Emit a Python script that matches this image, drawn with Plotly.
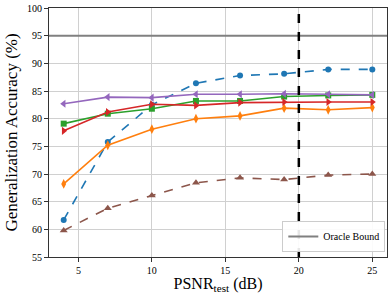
import plotly.graph_objects as go

psnr = [4, 7, 10, 13, 16, 19, 22, 25]
blue_vals = [61.7, 75.8, 82.5, 86.4, 87.8, 88.1, 88.9, 88.9]
orange_vals = [68.2, 75.2, 78.1, 80.0, 80.5, 81.9, 81.6, 82.0]
green_vals = [79.1, 80.9, 81.8, 83.2, 83.2, 84.0, 84.2, 84.3]
red_vals = [77.8, 81.2, 82.6, 82.4, 82.9, 83.0, 83.0, 83.0]
purple_vals = [82.7, 83.9, 83.8, 84.4, 84.4, 84.5, 84.4, 84.3]
brown_vals = [59.8, 63.8, 66.1, 68.4, 69.3, 69.0, 69.8, 70.0]
oracle_bound = 95
train_psnr = 20
x_range = [3, 26]

series = [
    (blue_vals, "#1f77b4", "circle", "dash", 6),
    (orange_vals, "#ff7f0e", "diamond-tall", "solid", 7),
    (green_vals, "#2ca02c", "square", "solid", 6),
    (red_vals, "#d62728", "triangle-right", "solid", 7),
    (purple_vals, "#9467bd", "triangle-left", "solid", 7),
    (brown_vals, "#8c564b", "triangle-up", "dash", 7),
]

fig = go.Figure()
for vals, color, sym, dash, sz in series:
    fig.add_trace(go.Scatter(
        x=psnr, y=vals, mode="lines+markers",
        line=dict(color=color, width=1.6, dash=dash),
        marker=dict(color=color, symbol=sym, size=sz, line=dict(width=0)),
        showlegend=False,
    ))

fig.add_trace(go.Scatter(
    x=x_range, y=[oracle_bound, oracle_bound], mode="lines",
    line=dict(color="#808080", width=2), name="Oracle Bound",
    showlegend=True,
))

fig.add_shape(type="line", x0=train_psnr, x1=train_psnr, y0=0, y1=1,
              xref="x", yref="paper",
              line=dict(color="black", width=2.5, dash="dash"))

font_family = "Liberation Serif, Times New Roman, serif"
fig.update_layout(
    width=390, height=294,
    margin=dict(l=49, r=2, t=6, b=37),
    paper_bgcolor="white", plot_bgcolor="white",
    font=dict(family=font_family, color="black", size=10),
    legend=dict(x=0.995, y=0.02, xanchor="right", yanchor="bottom",
                bgcolor="rgba(255,255,255,0.9)", bordercolor="#cccccc",
                borderwidth=1, font=dict(size=10, family=font_family)),
    xaxis=dict(
        range=x_range, tickvals=[5, 10, 15, 20, 25],
        showgrid=True, gridcolor="#d0d0d0", gridwidth=1,
        showline=True, linecolor="#333333", linewidth=1, mirror=True,
        ticks="outside", ticklen=4, tickcolor="#333333",
        ticklabeloverflow="allow",
        title=dict(text="PSNR<sub>test</sub> (dB)", font=dict(size=16), standoff=4),
        zeroline=False,
    ),
    yaxis=dict(
        range=[55, 100], tickvals=[55, 60, 65, 70, 75, 80, 85, 90, 95, 100],
        showgrid=True, gridcolor="#d0d0d0", gridwidth=1,
        showline=True, linecolor="#333333", linewidth=1, mirror=True,
        ticks="outside", ticklen=4, tickcolor="#333333",
        ticklabeloverflow="allow",
        title=dict(text="Generalization Accuracy (%)", font=dict(size=17), standoff=5),
        zeroline=False,
    ),
)

fig.write_html("out.html", config={"displayModeBar": False},
               post_script="document.body.style.margin='0';document.body.style.overflow='hidden';")
